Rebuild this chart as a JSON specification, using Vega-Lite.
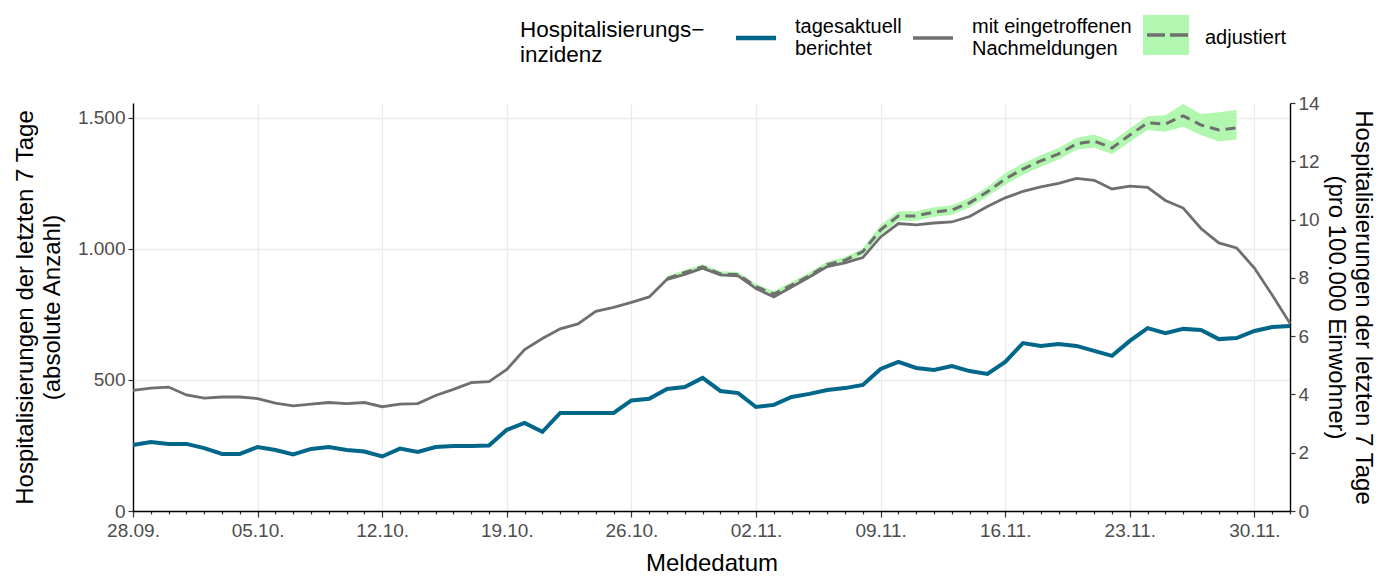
{
  "$schema": "https://vega.github.io/schema/vega-lite/v6.json",
  "width": 1157,
  "height": 408,
  "autosize": {"type": "none"},
  "padding": {"left": 133, "top": 103, "right": 106, "bottom": 66},
  "background": "white",
  "datasets": {
    "hosp": [
      {"d": "2021-09-28", "t": 252, "n": 460},
      {"d": "2021-09-29", "t": 263, "n": 469},
      {"d": "2021-09-30", "t": 256, "n": 473},
      {"d": "2021-10-01", "t": 256, "n": 443},
      {"d": "2021-10-02", "t": 240, "n": 431},
      {"d": "2021-10-03", "t": 218, "n": 435},
      {"d": "2021-10-04", "t": 218, "n": 435},
      {"d": "2021-10-05", "t": 244, "n": 429},
      {"d": "2021-10-06", "t": 233, "n": 412},
      {"d": "2021-10-07", "t": 216, "n": 401},
      {"d": "2021-10-08", "t": 237, "n": 408},
      {"d": "2021-10-09", "t": 244, "n": 414},
      {"d": "2021-10-10", "t": 233, "n": 410},
      {"d": "2021-10-11", "t": 227, "n": 414},
      {"d": "2021-10-12", "t": 208, "n": 398},
      {"d": "2021-10-13", "t": 238, "n": 408},
      {"d": "2021-10-14", "t": 225, "n": 410},
      {"d": "2021-10-15", "t": 244, "n": 441},
      {"d": "2021-10-16", "t": 248, "n": 464},
      {"d": "2021-10-17", "t": 248, "n": 490},
      {"d": "2021-10-18", "t": 250, "n": 494},
      {"d": "2021-10-19", "t": 310, "n": 540},
      {"d": "2021-10-20", "t": 336, "n": 616},
      {"d": "2021-10-21", "t": 302, "n": 658},
      {"d": "2021-10-22", "t": 374, "n": 695},
      {"d": "2021-10-23", "t": 374, "n": 714},
      {"d": "2021-10-24", "t": 374, "n": 762},
      {"d": "2021-10-25", "t": 374, "n": 777},
      {"d": "2021-10-26", "t": 422, "n": 796},
      {"d": "2021-10-27", "t": 428, "n": 817},
      {"d": "2021-10-28", "t": 466, "n": 884, "a": 887, "lo": 877, "hi": 897},
      {"d": "2021-10-29", "t": 473, "n": 903, "a": 910, "lo": 900, "hi": 920},
      {"d": "2021-10-30", "t": 508, "n": 927, "a": 932, "lo": 922, "hi": 942},
      {"d": "2021-10-31", "t": 458, "n": 901, "a": 905, "lo": 895, "hi": 915},
      {"d": "2021-11-01", "t": 450, "n": 897, "a": 902, "lo": 892, "hi": 912},
      {"d": "2021-11-02", "t": 397, "n": 849, "a": 856, "lo": 846, "hi": 866},
      {"d": "2021-11-03", "t": 405, "n": 817, "a": 828, "lo": 816, "hi": 840},
      {"d": "2021-11-04", "t": 435, "n": 855, "a": 862, "lo": 850, "hi": 874},
      {"d": "2021-11-05", "t": 447, "n": 893, "a": 898, "lo": 886, "hi": 910},
      {"d": "2021-11-06", "t": 462, "n": 933, "a": 940, "lo": 928, "hi": 952},
      {"d": "2021-11-07", "t": 469, "n": 947, "a": 957, "lo": 945, "hi": 969},
      {"d": "2021-11-08", "t": 481, "n": 967, "a": 990, "lo": 978, "hi": 1002},
      {"d": "2021-11-09", "t": 542, "n": 1046, "a": 1073, "lo": 1055, "hi": 1091},
      {"d": "2021-11-10", "t": 569, "n": 1097, "a": 1126, "lo": 1108, "hi": 1144},
      {"d": "2021-11-11", "t": 546, "n": 1092, "a": 1126, "lo": 1108, "hi": 1144},
      {"d": "2021-11-12", "t": 538, "n": 1099, "a": 1141, "lo": 1123, "hi": 1159},
      {"d": "2021-11-13", "t": 553, "n": 1103, "a": 1149, "lo": 1131, "hi": 1167},
      {"d": "2021-11-14", "t": 534, "n": 1124, "a": 1176, "lo": 1158, "hi": 1194},
      {"d": "2021-11-15", "t": 523, "n": 1162, "a": 1218, "lo": 1200, "hi": 1236},
      {"d": "2021-11-16", "t": 569, "n": 1195, "a": 1267, "lo": 1245, "hi": 1289},
      {"d": "2021-11-17", "t": 641, "n": 1220, "a": 1305, "lo": 1283, "hi": 1327},
      {"d": "2021-11-18", "t": 630, "n": 1237, "a": 1336, "lo": 1314, "hi": 1358},
      {"d": "2021-11-19", "t": 637, "n": 1250, "a": 1363, "lo": 1341, "hi": 1385},
      {"d": "2021-11-20", "t": 630, "n": 1269, "a": 1401, "lo": 1379, "hi": 1423},
      {"d": "2021-11-21", "t": 611, "n": 1262, "a": 1412, "lo": 1387, "hi": 1437},
      {"d": "2021-11-22", "t": 592, "n": 1229, "a": 1385, "lo": 1362, "hi": 1410},
      {"d": "2021-11-23", "t": 649, "n": 1240, "a": 1435, "lo": 1408, "hi": 1460},
      {"d": "2021-11-24", "t": 698, "n": 1235, "a": 1481, "lo": 1454, "hi": 1506},
      {"d": "2021-11-25", "t": 679, "n": 1185, "a": 1477, "lo": 1447, "hi": 1510},
      {"d": "2021-11-26", "t": 695, "n": 1156, "a": 1508, "lo": 1466, "hi": 1553},
      {"d": "2021-11-27", "t": 691, "n": 1078, "a": 1473, "lo": 1435, "hi": 1515},
      {"d": "2021-11-28", "t": 656, "n": 1023, "a": 1454, "lo": 1410, "hi": 1522},
      {"d": "2021-11-29", "t": 660, "n": 1004, "a": 1462, "lo": 1418, "hi": 1530},
      {"d": "2021-11-30", "t": 687, "n": 927},
      {"d": "2021-12-01", "t": 702, "n": 824},
      {"d": "2021-12-02", "t": 706, "n": 716}
    ],
    "rightaxis": [{"r": 0}, {"r": 14}]
  },
  "layer": [
    {
      "data": {"name": "hosp"},
      "transform": [{"fold": ["t", "n", "a"], "as": ["key", "value"]}],
      "encoding": {
        "x": {
          "field": "d",
          "type": "temporal",
          "title": "Meldedatum",
          "scale": {
            "type": "utc",
            "domain": [
              {"year": 2021, "month": 9, "date": 28, "utc": true},
              {"year": 2021, "month": 12, "date": 2, "utc": true}
            ]
          },
          "axis": {
            "tickCount": {"interval": "day", "step": 1},
            "labelExpr": "utcday(datum.value) === 2 ? utcFormat(datum.value, '%d.%m.') : ''",
            "labelOverlap": false,
            "labelFlush": false,
            "tickSize": {"condition": {"test": "utcday(datum.value) === 2", "value": 6}, "value": 3},
            "grid": true,
            "gridOpacity": {"condition": {"test": "utcday(datum.value) === 2", "value": 1}, "value": 0},
            "labelPadding": 4,
            "titlePadding": 11
          }
        },
        "y": {
          "field": "value",
          "type": "quantitative",
          "title": ["Hospitalisierungen der letzten 7 Tage", "(absolute Anzahl)"],
          "scale": {"domain": [0, 1557], "nice": false, "zero": true},
          "axis": {
            "orient": "left",
            "values": [0, 500, 1000, 1500],
            "labelExpr": "replace(format(datum.value, ','), ',', '.')",
            "grid": true,
            "titlePadding": 13
          }
        }
      },
      "layer": [
        {
          "transform": [{"filter": "datum.key === 'a' && isValid(datum.lo)"}],
          "mark": {"type": "area", "color": "#b2f7b0", "opacity": 1},
          "encoding": {
            "y": {"field": "lo", "type": "quantitative", "title": ["Hospitalisierungen der letzten 7 Tage", "(absolute Anzahl)"]},
            "y2": {"field": "hi"}
          }
        },
        {
          "transform": [{"filter": "datum.key === 'n'"}],
          "mark": {"type": "line", "strokeWidth": 2.8},
          "encoding": {
            "color": {
              "field": "key",
              "type": "nominal",
              "scale": {"domain": ["t", "n", "a"], "range": ["#00678a", "#6f6f6f", "#6f6f6f"]},
              "legend": {
                "orient": "none",
                "legendX": 387,
                "legendY": -78,
                "direction": "horizontal",
                "title": ["Hospitalisierungs−", "inzidenz"],
                "titleOrient": "left",
                "titleFontSize": 22.5,
                "titleFontWeight": "normal",
                "titleColor": "black",
                "titleLineHeight": 25,
                "titleLimit": 0,
                "titlePadding": 41,
                "titleBaseline": "top",
                "labelFontSize": 20,
                "labelColor": "black",
                "labelLimit": 0,
                "labelOffset": 29,
                "columnPadding": 4,
                "symbolSize": 1600,
                "labelExpr": "datum.label === 't' ? ['tagesaktuell', 'berichtet'] : datum.label === 'n' ? ['mit eingetroffenen', 'Nachmeldungen'] : 'adjustiert'",
                "encode": {
                  "title": {"update": {"dy": {"value": -12}}},
                  "labels": {"update": {"lineHeight": {"value": 22}, "dy": {"signal": "datum.value === 'a' ? 3 : -11"}}},
                  "symbols": {
                    "update": {
                      "shape": {"signal": "datum.value === 'a' ? 'M-1.15,0H1.15V-1H-1.15V1H1.15V0' : 'M-1,0H1'"},
                      "fill": {"signal": "datum.value === 'a' ? '#b2f7b0' : 'transparent'"},
                      "strokeDash": {"signal": "datum.value === 'a' ? [0, 4, 18, 5, 18, 400] : [1, 0]"},
                      "strokeWidth": {"signal": "datum.value === 't' ? 4.5 : 3.5"},
                      "size": {"value": 1600},
                      "opacity": {"value": 1}
                    }
                  }
                }
              }
            }
          }
        },
        {
          "transform": [{"filter": "datum.key === 't'"}],
          "mark": {"type": "line", "strokeWidth": 4},
          "encoding": {"color": {"field": "key", "type": "nominal"}}
        },
        {
          "transform": [{"filter": "datum.key === 'a' && isValid(datum.value)"}],
          "mark": {"type": "line", "strokeWidth": 3, "strokeDash": [10, 6]},
          "encoding": {"color": {"field": "key", "type": "nominal"}}
        }
      ]
    },
    {
      "data": {"name": "rightaxis"},
      "mark": {"type": "rule", "opacity": 0},
      "encoding": {
        "y": {
          "field": "r",
          "type": "quantitative",
          "title": ["Hospitalisierungen der letzten 7 Tage", "(pro 100.000 Einwohner)"],
          "scale": {"domain": [0, 14], "nice": false},
          "axis": {
            "orient": "right",
            "values": [0, 2, 4, 6, 8, 10, 12, 14],
            "grid": false,
            "titlePadding": 4
          }
        }
      }
    }
  ],
  "resolve": {"scale": {"y": "independent"}},
  "config": {
    "font": "Liberation Sans",
    "view": {"stroke": null},
    "axis": {
      "labelFont": "Liberation Sans",
      "titleFont": "Liberation Sans",
      "labelFontSize": 19,
      "labelColor": "#4d4d4d",
      "titleFontSize": 24,
      "titleFontWeight": "normal",
      "titleColor": "black",
      "titleLineHeight": 27,
      "domainColor": "black",
      "domainWidth": 1.4,
      "tickColor": "#333333",
      "tickWidth": 1.2,
      "tickSize": 5,
      "gridColor": "#ebebeb",
      "gridWidth": 1.3,
      "labelPadding": 3
    },
    "legend": {
      "labelFont": "Liberation Sans",
      "titleFont": "Liberation Sans"
    }
  }
}
